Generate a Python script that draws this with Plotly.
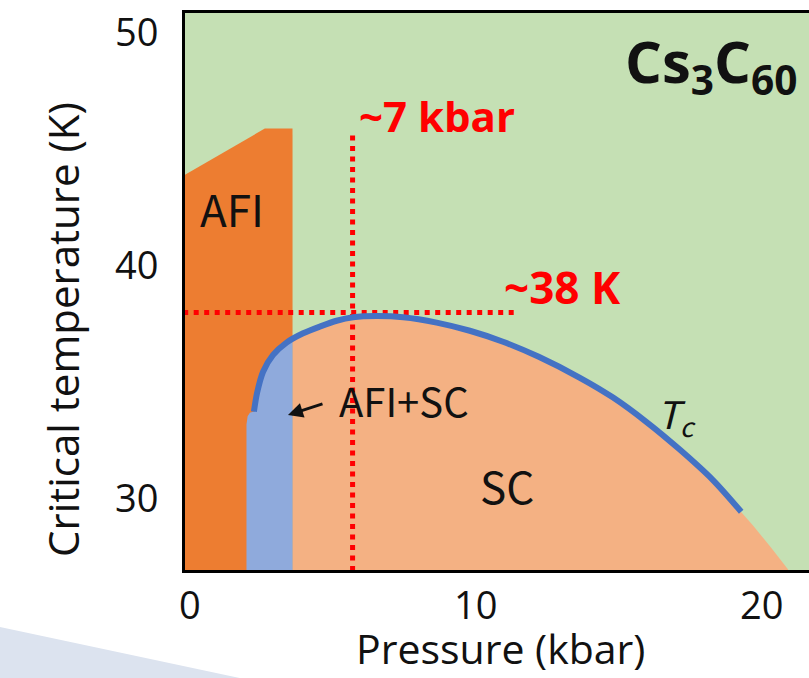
import plotly.graph_objects as go
import numpy as np

# ---- data (pressure in kbar, temperature in K) ----
afi_p = [-0.2, 2.62, 3.59, 3.59, -0.2]
afi_T = [43.9, 45.9, 45.9, 26.5, 26.5]

tc_p = [2.24, 2.35, 2.56, 2.91, 3.38, 3.96, 4.55, 5.13, 5.71, 6.53, 7.46, 8.63,
        9.79, 10.95, 12.2, 13.64, 14.8, 15.97, 17.13, 18.3, 19.28]
tc_T = [33.75, 34.55, 35.46, 36.18, 36.71, 37.11, 37.4, 37.65, 37.8, 37.85, 37.8, 37.57,
        37.22, 36.75, 36.1, 35.2, 34.35, 33.3, 32.12, 30.8, 29.45]

mix_left_p = [1.98, 1.98, 2.02, 2.1]
mix_left_T = [26.5, 33.2, 33.55, 33.7]

sc_tail_p = [19.7, 20.3, 20.92, 20.92]
sc_tail_T = [28.85, 27.95, 26.97, 26.5]

split_p = 3.59        # AFI / SC boundary
peak_p = 5.69         # "~7 kbar" marker
peak_T = 38.0         # "~38 K" marker
vline_top_T = 45.6
hline_right_p = 11.36

x_ticks = [0, 10, 20]
y_ticks = [30, 40, 50]

# ---- colours ----
GREEN = "#C5E0B4"
ORANGE = "#ED7D31"
SALMON = "#F4B183"
LBLUE = "#8FAADC"
BLUE = "#4472C4"
RED = "#FF0000"
INK = "#111111"

fig = go.Figure()

# AFI region
fig.add_trace(go.Scatter(x=afi_p, y=afi_T, fill="toself", fillcolor=ORANGE,
                         line=dict(width=0), mode="lines", hoverinfo="skip"))

t_at_split = float(np.interp(split_p, tc_p, tc_T))

# SC region
sc_x = [split_p, split_p] + [p for p in tc_p if p > split_p] + sc_tail_p
sc_y = [26.5, t_at_split] + [t for p, t in zip(tc_p, tc_T) if p > split_p] + sc_tail_T
fig.add_trace(go.Scatter(x=sc_x, y=sc_y, fill="toself", fillcolor=SALMON,
                         line=dict(width=0), mode="lines", hoverinfo="skip"))

# AFI+SC coexistence region
mix_x = mix_left_p + [p for p in tc_p if p < split_p] + [split_p, split_p]
mix_y = mix_left_T + [t for p, t in zip(tc_p, tc_T) if p < split_p] + [t_at_split, 26.5]
fig.add_trace(go.Scatter(x=mix_x, y=mix_y, fill="toself", fillcolor=LBLUE,
                         line=dict(width=0), mode="lines", hoverinfo="skip"))

# red dotted guides
fig.add_trace(go.Scatter(x=[peak_p, peak_p], y=[vline_top_T, 26.5], mode="lines",
                         line=dict(color=RED, width=5, dash="5px,5.5px"), hoverinfo="skip"))
fig.add_trace(go.Scatter(x=[-0.6, hline_right_p], y=[peak_T, peak_T], mode="lines",
                         line=dict(color=RED, width=5, dash="5px,5.5px"), hoverinfo="skip"))

# Tc line
fig.add_trace(go.Scatter(x=tc_p, y=tc_T, mode="lines",
                         line=dict(color=BLUE, width=6, shape="spline", smoothing=0.8),
                         hoverinfo="skip"))

LABEL_FONT = "Noto Sans CJK JP"
ann = [
    dict(x=1.47, y=42.5, text="AFI", font=dict(size=44, family=LABEL_FONT, color=INK)),
    dict(x=7.48, y=34.25, text="AFI+SC", font=dict(size=40, family=LABEL_FONT, color=INK)),
    dict(x=11.1, y=30.6, text="SC", font=dict(size=44, family=LABEL_FONT, color=INK)),
    dict(x=17.0, y=33.6, text="<i>T</i><sub><i>c</i></sub>",
         font=dict(size=38, family=LABEL_FONT, color=INK)),
    dict(x=5.85, y=46.45, text="<b>~7 kbar</b>", xanchor="left",
         font=dict(size=42, family="Open Sans", color=RED)),
    dict(x=10.9, y=39.1, text="<b>~38 K</b>", xanchor="left",
         font=dict(size=44, family="Open Sans", color=RED)),
    dict(x=15.15, y=48.65, text="<b>Cs<sub>3</sub>C<sub>60</sub></b>", xanchor="left",
         font=dict(size=58, family="Open Sans", color=INK)),
]
for a in ann:
    a.setdefault("xanchor", "center")
    fig.add_annotation(showarrow=False, yanchor="middle", **a)

# arrow to the AFI+SC region
fig.add_annotation(x=3.43, y=33.6, ax=4.69, ay=34.1, axref="x", ayref="y",
                   showarrow=True, arrowhead=2, arrowsize=1.0, arrowwidth=3,
                   arrowcolor=INK, text="")

# axis titles (placed as in the reference)
fig.add_annotation(xref="paper", yref="paper", x=-0.1955, y=0.431, textangle=-90,
                   text="Critical temperature (K)", showarrow=False,
                   xanchor="center", yanchor="middle",
                   font=dict(size=42, family="Open Sans", color=INK))
fig.add_annotation(xref="paper", yref="paper", x=0.505, y=-0.194, yanchor="bottom",
                   text="Pressure (kbar)", showarrow=False, xanchor="center",
                   font=dict(size=41, family="Open Sans", color=INK))

# decorative slide wedge at bottom-left
fig.add_shape(type="path", xref="paper", yref="paper",
              path="M -0.2965 -0.1023 L 0.088 -0.194 L -0.2965 -0.194 Z",
              fillcolor="#DCE3EF", line=dict(width=0), layer="below")

AXIS_FONT = "Open Sans"
fig.update_layout(
    width=809, height=678,
    margin=dict(l=185, r=0, t=13, b=108),
    plot_bgcolor=GREEN, paper_bgcolor="white",
    showlegend=False,
    xaxis=dict(range=[-0.17, 21.65], tickvals=x_ticks, showgrid=False, zeroline=False,
               showline=True, linecolor="black", linewidth=3, mirror=True,
               ticks="", tickfont=dict(size=38, family=AXIS_FONT, color=INK)),
    yaxis=dict(range=[26.95, 50.86], tickvals=y_ticks, showgrid=False, zeroline=False,
               showline=True, linecolor="black", linewidth=3,
               ticks="", tickfont=dict(size=38, family=AXIS_FONT, color=INK),
               ticklabelstandoff=16),
)

fig.write_html("out.html")
